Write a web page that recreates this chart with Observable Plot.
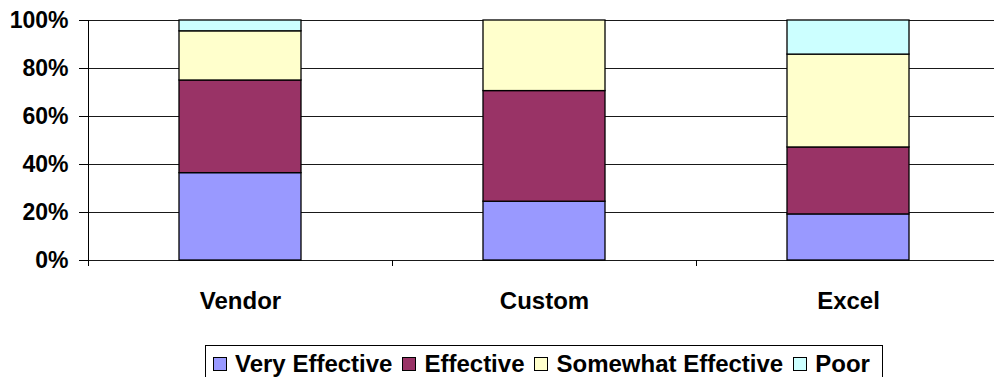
<!DOCTYPE html>
<html>
<head>
<meta charset="utf-8">
<script src="https://cdn.jsdelivr.net/npm/d3@7"></script>
<script src="https://cdn.jsdelivr.net/npm/@observablehq/plot@0.6"></script>
<style>
  html, body { margin: 0; padding: 0; background: #fff; overflow: hidden; }
  #wrap { position: relative; width: 994px; height: 377px; overflow: hidden; font-family: "Liberation Sans", Arial, sans-serif; }
  #chart svg { max-width: none !important; }
  #legend { position: absolute; left: 205px; top: 345px; width: 678px; height: 40px; border: 1px solid #000; box-sizing: border-box;
            display: flex; align-items: flex-start; padding: 4px 0 0 7px; font-weight: bold; font-size: 24px; color: #000; white-space: nowrap; }
  .item { display: flex; align-items: center; margin-right: 10px; line-height: 27px; }
  .sw { width: 12px; height: 12px; border: 1px solid #000; margin-right: 8px; }
</style>
</head>
<body>
<div id="wrap"><div id="chart"></div><div id="legend"></div></div>
<script>
const categories = ["Vendor", "Custom", "Excel"];
const series = ["Very Effective", "Effective", "Somewhat Effective", "Poor"];
const veryEffective = [36.4, 24.5, 19.2];
const effective = [38.6, 46.1, 27.9];
const somewhatEffective = [20.5, 29.4, 38.7];
const poor = [4.5, 0, 14.2];
const yTicks = [0, 20, 40, 60, 80, 100];
const colors = ["#9999FF", "#993366", "#FFFFCC", "#CCFFFF"];

const seriesValues = [veryEffective, effective, somewhatEffective, poor];
const rows = [];
series.forEach((s, i) => categories.forEach((c, j) => rows.push({category: c, series: s, value: seriesValues[i][j]})));

const chart = Plot.plot({
  width: 1000,
  height: 335,
  marginLeft: 88,
  marginRight: 0,
  marginTop: 20,
  marginBottom: 75,
  style: {fontFamily: "'Liberation Sans', Arial, sans-serif", color: "#000", background: "#fff", maxWidth: "none"},
  x: {domain: categories, paddingInner: 0.6, paddingOuter: 0.3, axis: null, label: null},
  y: {domain: [0, 100], axis: null, label: null},
  color: {domain: series, range: colors},
  marks: [
    Plot.gridY(yTicks, {stroke: "#000", strokeOpacity: 0.9, strokeWidth: 1}),
    Plot.barY(rows, {x: "category", y: "value", fill: "series", order: series, stroke: "#000", strokeWidth: 1.3}),
    Plot.frame({anchor: "left", stroke: "#000"}),
    Plot.axisY(yTicks, {tickSize: 9, tickPadding: 11, tickFormat: d => d + "%", fontSize: 23, fontWeight: "bold", stroke: "#000", label: null}),
    Plot.axisX({tickSize: 6, text: null, dx: -152, stroke: "#000", label: null}),
    Plot.axisX({tickSize: 0, tickPadding: 31, fontSize: 24, fontWeight: "bold", label: null})
  ]
});
document.getElementById("chart").appendChild(chart);

const legend = document.getElementById("legend");
series.forEach((s, i) => {
  const item = document.createElement("div");
  item.className = "item";
  const sw = document.createElement("div");
  sw.className = "sw";
  sw.style.background = colors[i];
  const t = document.createElement("span");
  t.textContent = s;
  item.appendChild(sw);
  item.appendChild(t);
  legend.appendChild(item);
});
</script>
</body>
</html>
